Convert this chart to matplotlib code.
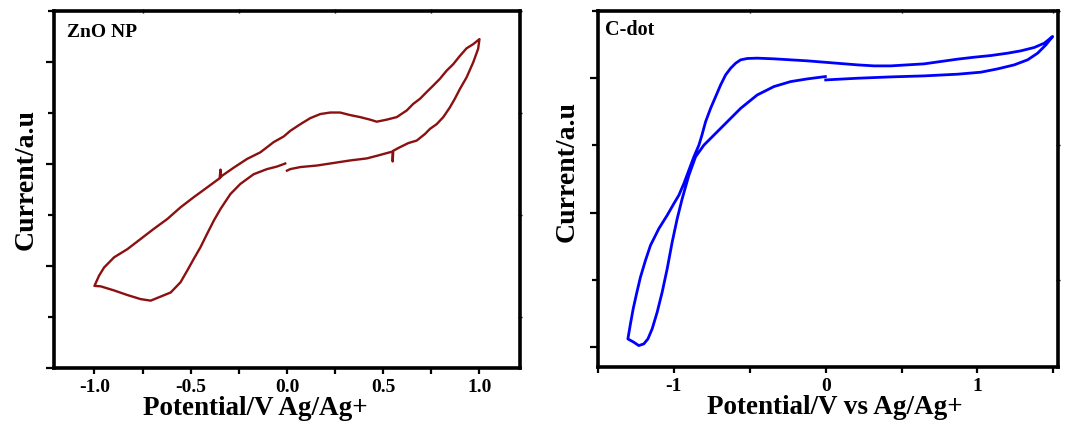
import matplotlib
matplotlib.use("Agg")
import matplotlib.pyplot as plt
from matplotlib.ticker import MultipleLocator

plt.rcParams['font.family'] = ['Liberation Serif', 'DejaVu Serif']
plt.rcParams['font.weight'] = 'bold'

# ZnO NP cyclic voltammogram (potential in V, current in arbitrary units)
zno_v = [0.0, 0.017, 0.069, 0.155, 0.242, 0.328, 0.415, 0.466, 0.544, 0.549, 0.549, 0.552,
         0.587, 0.630, 0.674, 0.717, 0.743, 0.777, 0.812, 0.846, 0.872, 0.898, 0.933, 0.967,
         0.993, 1.0,
         0.967, 0.933, 0.898, 0.864, 0.829, 0.794, 0.760, 0.725, 0.691, 0.656, 0.622, 0.570,
         0.518, 0.466, 0.432, 0.380, 0.328, 0.276, 0.225, 0.173, 0.121, 0.069, 0.017, -0.017,
         -0.069, -0.138, -0.207, -0.276, -0.337, -0.345, -0.345, -0.350, -0.415, -0.484,
         -0.553, -0.622, -0.691, -0.760, -0.829, -0.898, -0.950, -0.976, -1.0,
         -0.967, -0.898, -0.829, -0.760, -0.708, -0.656, -0.604, -0.553, -0.518, -0.484,
         -0.449, -0.415, -0.380, -0.345, -0.294, -0.242, -0.173, -0.104, -0.052, -0.009]
zno_i = [3.87, 3.90, 3.94, 3.97, 4.02, 4.07, 4.11, 4.16, 4.24, 4.24, 4.05, 4.26,
         4.33, 4.41, 4.46, 4.59, 4.69, 4.78, 4.92, 5.11, 5.28, 5.47, 5.70, 5.99,
         6.26, 6.45,
         6.35, 6.27, 6.12, 5.96, 5.83, 5.67, 5.54, 5.41, 5.28, 5.18, 5.05, 4.92,
         4.87, 4.83, 4.87, 4.92, 4.96, 5.01, 5.01, 4.98, 4.90, 4.78, 4.65, 4.54,
         4.43, 4.23, 4.10, 3.93, 3.77, 3.74, 3.89, 3.72, 3.54, 3.35,
         3.15, 2.92, 2.73, 2.53, 2.33, 2.17, 1.97, 1.81, 1.61,
         1.60, 1.52, 1.43, 1.35, 1.32, 1.40, 1.48, 1.68, 1.91, 2.14,
         2.37, 2.63, 2.89, 3.12, 3.41, 3.61, 3.80, 3.90, 3.95, 4.01]

# C-dot cyclic voltammogram
cdot_v = [0.0, 0.209, 0.429, 0.648, 0.868, 1.022, 1.132, 1.242, 1.330, 1.396, 1.451, 1.495,
          1.440, 1.374, 1.286, 1.198, 1.088, 0.978, 0.868, 0.758, 0.648, 0.538, 0.429, 0.319,
          0.209, 0.099, -0.011, -0.121, -0.231, -0.341, -0.451, -0.516, -0.560, -0.593, -0.626,
          -0.659, -0.692, -0.725, -0.758, -0.791, -0.809, -0.815, -0.835, -0.868, -0.901,
          -0.934, -0.967, -1.000, -1.044, -1.099, -1.154, -1.187, -1.220, -1.246, -1.268,
          -1.286, -1.303,
          -1.264, -1.231, -1.198, -1.171, -1.143, -1.110, -1.077, -1.044, -1.011, -0.978,
          -0.945, -0.901, -0.857, -0.802, -0.736, -0.648, -0.560, -0.451, -0.341, -0.231,
          -0.121, -0.002]
cdot_i = [3.975, 4.000, 4.020, 4.035, 4.060, 4.090, 4.139, 4.199, 4.274, 4.373, 4.498, 4.622,
          4.522, 4.458, 4.408, 4.373, 4.338, 4.313, 4.284, 4.249, 4.214, 4.199, 4.184, 4.184,
          4.199, 4.219, 4.239, 4.259, 4.274, 4.289, 4.299, 4.294, 4.274, 4.224, 4.149,
          4.050, 3.900, 3.726, 3.552, 3.353, 3.204, 3.154, 3.005, 2.831, 2.632,
          2.433, 2.259, 2.134, 1.960, 1.761, 1.512, 1.289, 1.040, 0.791, 0.567,
          0.343, 0.119,
          0.070, 0.020, 0.045, 0.119, 0.269, 0.517, 0.816, 1.164, 1.562, 1.910,
          2.209, 2.557, 2.831, 3.005, 3.154, 3.353, 3.552, 3.751, 3.876, 3.950,
          3.990, 4.025]

fig = plt.figure(figsize=(10.72, 4.31), dpi=100)
ax1 = fig.add_axes([0.0504, 0.144, 0.4346, 0.828])
ax2 = fig.add_axes([0.5578, 0.146, 0.4291, 0.826])


def style(ax, xmaj, xmin, ymaj, ymin):
    for s in ax.spines.values():
        s.set_linewidth(2.6)
    ax.xaxis.set_major_locator(MultipleLocator(xmaj))
    ax.xaxis.set_minor_locator(MultipleLocator(xmin))
    ax.yaxis.set_major_locator(MultipleLocator(ymaj))
    ax.yaxis.set_minor_locator(MultipleLocator(ymin))
    ax.tick_params(axis='x', which='both', direction='out', length=4, width=1.6,
                   labelsize=14, pad=3)
    ax.tick_params(axis='y', which='major', direction='out', length=6, width=1.6)
    ax.tick_params(axis='y', which='minor', direction='out', length=4, width=1.6)
    ax.tick_params(axis='y', which='both', labelleft=False)
    top = ax.secondary_xaxis('top')
    top.set_xticks(ax.xaxis.get_minorticklocs())
    top.tick_params(direction='inout', length=3, width=1.0, labeltop=False)
    right = ax.secondary_yaxis('right')
    right.set_yticks(ax.yaxis.get_minorticklocs())
    right.tick_params(direction='inout', length=3, width=1.0, labelright=False)
    for s in top.spines.values():
        s.set_visible(False)
    for s in right.spines.values():
        s.set_visible(False)


ax1.plot(zno_v, zno_i, color='#8B1010', lw=1.7)
ax1.set_xlim(-1.21, 1.21)
ax1.set_ylim(0, 7)
style(ax1, 0.5, 0.25, 2, 1)
ax1.set_xticks([-1.0, -0.5, 0.0, 0.5, 1.0])
ax1.set_xticklabels(['-1.0', '-0.5', '0.0', '0.5', '1.0'], fontweight='bold')
ax1.set_xlabel('Potential/V Ag/Ag+', fontsize=19.5, fontweight='bold')
ax1.xaxis.set_label_coords(0.431, -0.075)
ax1.set_ylabel('Current/a.u', fontsize=20, fontweight='bold')
ax1.yaxis.set_label_coords(-0.034, 0.532)
ax1.text(0.028, 0.944, 'ZnO NP', transform=ax1.transAxes, fontsize=14,
         fontweight='bold', va='center', ha='left')

ax2.plot(cdot_v, cdot_i, color='#0000FF', lw=2.0)
ax2.set_xlim(-1.5, 1.53)
ax2.set_ylim(-0.3, 5.0)
style(ax2, 1, 0.5, 2, 1)
ax2.set_xticks([-1, 0, 1])
ax2.set_xticklabels(['-1', '0', '1'], fontweight='bold')
ax2.set_xlabel('Potential/V vs Ag/Ag+', fontsize=19.5, fontweight='bold')
ax2.xaxis.set_label_coords(0.514, -0.075)
ax2.set_ylabel('Current/a.u', fontsize=20, fontweight='bold')
ax2.yaxis.set_label_coords(-0.039, 0.553)
ax2.text(0.015, 0.949, 'C-dot', transform=ax2.transAxes, fontsize=14.5,
         fontweight='bold', va='center', ha='left')

fig.savefig('out.png', dpi=100)
